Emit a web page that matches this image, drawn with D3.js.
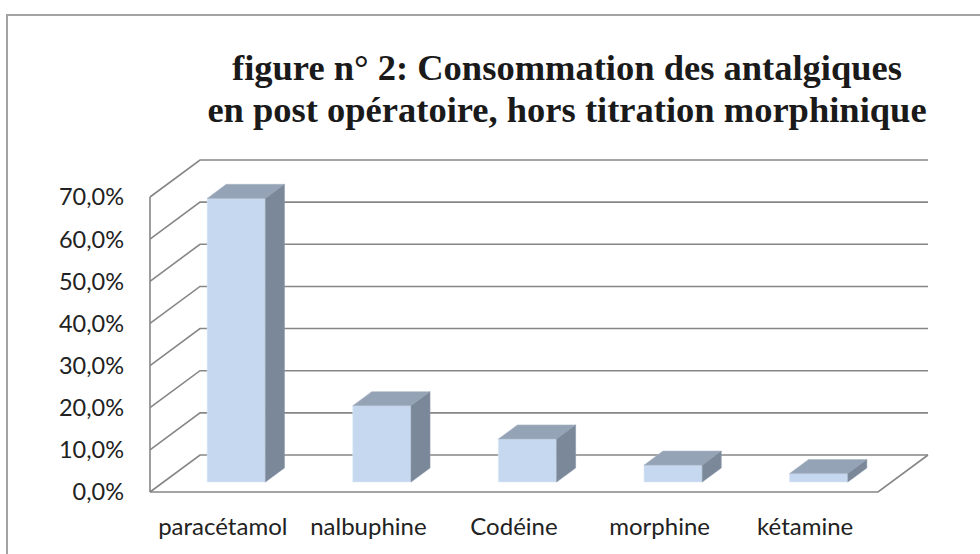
<!DOCTYPE html>
<html><head><meta charset="utf-8">
<script src="https://cdn.jsdelivr.net/npm/d3@7"></script>
<style>html,body{margin:0;padding:0;background:#fff;}svg{display:block;}</style>
</head><body>
<svg id="chart" width="980" height="554"></svg>
<script>
const categories = ["paracétamol", "nalbuphine", "Codéine", "morphine", "kétamine"];
const values = [67.3, 18.1, 10.2, 4.0, 2.0];
const yTicks = [0, 10, 20, 30, 40, 50, 60, 70];
const titleLines = ["figure n° 2: Consommation des antalgiques", "en post opératoire, hors titration morphinique"];

const svg = d3.select("#chart");
const origin = {x: 150, y: 492};
const depth = {x: 50, y: -37};
const x = d3.scaleBand().domain(categories).range([0, 728]).padding(0);
const y = d3.scaleLinear().domain([0, 70]).range([0, 295]);
const fmt = d3.formatLocale({decimal: ",", thousands: " ", grouping: [3], currency: ["", "€"]}).format(".1%");

function P(px, d, v) { return [origin.x + px + depth.x * d, origin.y + depth.y * d - y(v)]; }
const line = d3.line();

// outer border
svg.append("rect").attr("x", 7).attr("y", 15).attr("width", 1000).attr("height", 600)
  .attr("fill", "none").attr("stroke", "#a3a3a3").attr("stroke-width", 2);

// title
svg.append("g").selectAll("text").data(titleLines).join("text")
  .attr("x", 567).attr("y", (d, i) => 80 + i * 42)
  .attr("text-anchor", "middle")
  .attr("font-family", "'Liberation Serif', 'Times New Roman', serif")
  .attr("font-weight", "bold").attr("font-size", 36.5).attr("fill", "#1a1a1a")
  .text(d => d);

const grid = svg.append("g").attr("stroke", "#868686").attr("stroke-width", 1.6).attr("fill", "none");
// back wall gridlines + side wall diagonals
yTicks.forEach(v => {
  grid.append("path").attr("d", line([P(0, 0, v), P(0, 1, v), P(x.range()[1], 1, v)]));
});
// floor
grid.append("path").attr("d", line([P(0, 0, 0), P(x.range()[1], 0, 0), P(x.range()[1], 1, 0)]));
// front vertical axis
grid.append("path").attr("d", line([P(0, 0, 0), P(0, 0, 70)]));

// bars
const d0 = 0.27, d1 = 0.65;
const bw = x.bandwidth() * 0.4, boff = x.bandwidth() * 0.3;
const bars = svg.append("g");
categories.forEach((c, i) => {
  const v = values[i];
  const xl = x(c) + boff, xr = xl + bw;
  const g = bars.append("g");
  g.append("path").attr("fill", "#c5d8ef").attr("stroke", "#dce8f6").attr("stroke-width", 0.6)
    .attr("d", line([P(xl, d0, 0), P(xr, d0, 0), P(xr, d0, v), P(xl, d0, v)]) + "Z");
  g.append("path").attr("fill", "#94a3b6").attr("stroke", "#a9b5c5").attr("stroke-width", 0.6)
    .attr("d", line([P(xl, d0, v), P(xr, d0, v), P(xr, d1, v), P(xl, d1, v)]) + "Z");
  g.append("path").attr("fill", "#7a8899").attr("stroke", "#8a97a7").attr("stroke-width", 0.6)
    .attr("d", line([P(xr, d0, 0), P(xr, d1, 0), P(xr, d1, v), P(xr, d0, v)]) + "Z");
});

// y labels
svg.append("g").selectAll("text").data(yTicks).join("text")
  .attr("x", 124).attr("y", d => P(0, 0, d)[1]).attr("dy", "0.36em")
  .attr("text-anchor", "end").attr("font-family", "Lato, 'Open Sans', sans-serif")
  .attr("font-size", 23.5).attr("fill", "#222")
  .text(d => fmt(d / 100));

// x labels
svg.append("g").selectAll("text").data(categories).join("text")
  .attr("x", d => origin.x + x(d) + x.bandwidth() / 2).attr("y", 535)
  .attr("text-anchor", "middle").attr("font-family", "Lato, 'Open Sans', sans-serif")
  .attr("font-size", 24).attr("fill", "#222")
  .text(d => d);
</script>
</body></html>
